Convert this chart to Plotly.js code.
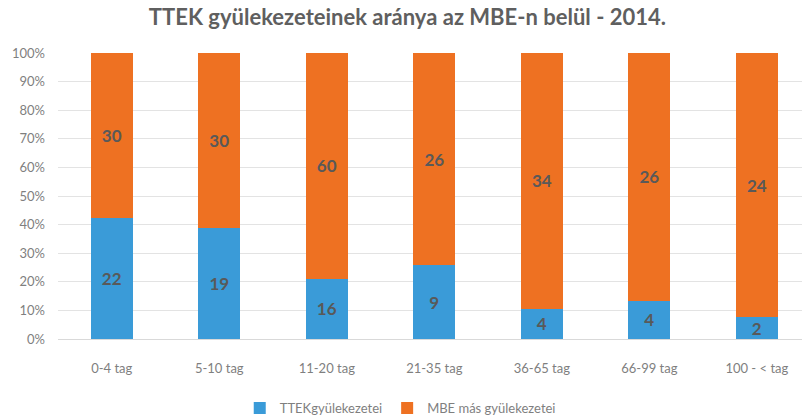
<!DOCTYPE html>
<html>
<head>
<meta charset="utf-8">
<script src="https://cdn.plot.ly/plotly-3.0.1.min.js"></script>
<style>html,body{margin:0;padding:0;background:#fff;}#chart{width:802px;height:419px;}</style>
</head>
<body>
<div id="chart"></div>
<script>
const categories = ["0-4 tag", "5-10 tag", "11-20 tag", "21-35 tag", "36-65 tag", "66-99 tag", "100 - < tag"];
const ttekValues = [22, 19, 16, 9, 4, 4, 2];
const mbeValues = [30, 30, 60, 26, 34, 26, 24];
const seriesNames = ["TTEKgyülekezetei", "MBE más gyülekezetei"];
const yTicks = [0, 10, 20, 30, 40, 50, 60, 70, 80, 90, 100];

const labelFont = {family: "Lato, 'Open Sans', sans-serif", size: 17, color: "#595959", weight: "bold"};

const traces = [
  {type: "bar", name: seriesNames[0], x: categories, y: ttekValues, text: ttekValues.map(String),
   textposition: "inside", insidetextanchor: "middle", textangle: 0, constraintext: "none", textfont: labelFont,
   marker: {color: "#3a9bd8"}, hoverinfo: "none"},
  {type: "bar", name: seriesNames[1], x: categories, y: mbeValues, text: mbeValues.map(String),
   textposition: "inside", insidetextanchor: "middle", textangle: 0, constraintext: "none", textfont: labelFont,
   marker: {color: "#ee7122"}, hoverinfo: "none"}
];

const layout = {
  width: 802, height: 419,
  margin: {l: 58, r: 0, t: 53, b: 80, autoexpand: false},
  paper_bgcolor: "#fff", plot_bgcolor: "#fff",
  barmode: "stack", barnorm: "percent", bargap: 0.61,
  title: {text: "TTEK gyülekezeteinek aránya az MBE-n belül - 2014.", x: 0.508, xanchor: "center", y: 0.958, yanchor: "middle",
          font: {family: "Lato, 'Open Sans', sans-serif", size: 22, color: "#5f5f5f", weight: "bold"}},
  xaxis: {type: "category", range: [-0.5, 6.42], showgrid: false, zeroline: false, showline: false,
          tickfont: {family: "Lato, 'Open Sans', sans-serif", size: 13, color: "#7f7f7f"}, ticks: "", ticklabelstandoff: 20},
  yaxis: {range: [0, 100], tickvals: yTicks, ticktext: yTicks.map(v => v + "%"), showgrid: true, gridcolor: "#e3e3e3",
          zeroline: true, zerolinecolor: "#d9d9d9", showline: false, ticks: "", ticklabelstandoff: 12,
          tickfont: {family: "Lato, 'Open Sans', sans-serif", size: 13, color: "#7f7f7f"}},
  legend: {orientation: "h", x: 0.46, xanchor: "center", y: -0.241, yanchor: "middle",
           font: {family: "Lato, 'Open Sans', sans-serif", size: 13, color: "#7f7f7f"}, itemwidth: 30, traceorder: "normal"},
  showlegend: true
};

Plotly.newPlot("chart", traces, layout, {displayModeBar: false, staticPlot: true});
</script>
</body>
</html>
